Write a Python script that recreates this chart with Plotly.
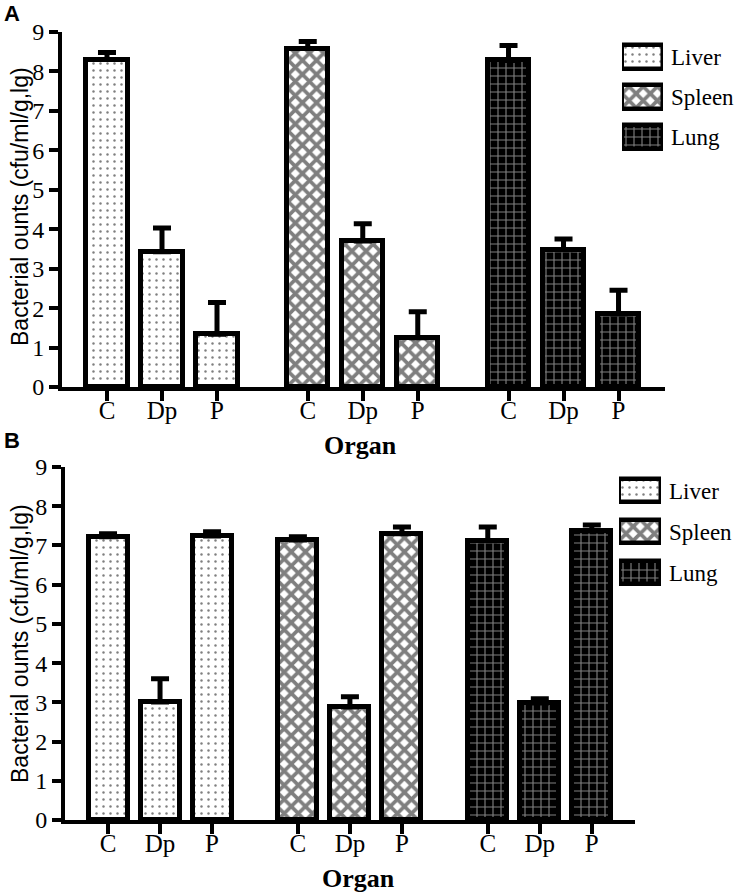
import plotly.graph_objects as go

W, H = 739, 896

# ---------------- data ----------------
organs = ["Liver", "Spleen", "Lung"]
groups = ["C", "Dp", "P"]
y_ticks = [0, 1, 2, 3, 4, 5, 6, 7, 8, 9]

# Panel A
a_liver = [8.30, 3.43, 1.34]
a_liver_err = [0.18, 0.60, 0.80]
a_spleen = [8.58, 3.70, 1.25]
a_spleen_err = [0.18, 0.44, 0.66]
a_lung = [8.28, 3.48, 1.85]
a_lung_err = [0.38, 0.27, 0.60]

# Panel B
b_liver = [7.22, 3.01, 7.24]
b_liver_err = [0.08, 0.59, 0.11]
b_spleen = [7.14, 2.88, 7.30]
b_spleen_err = [0.08, 0.26, 0.17]
b_lung = [7.12, 2.98, 7.37]
b_lung_err = [0.35, 0.11, 0.15]

y_title = "Bacterial ounts (cfu/ml/g,lg)"
x_title = "Organ"

# ---------------- styles ----------------
SERIF = "Liberation Serif"
SANS = "Liberation Sans"
patterns = {
    "Liver": dict(shape=".", fgcolor="black", bgcolor="white", size=7, solidity=0.1),
    "Spleen": dict(shape="x", fgcolor="black", bgcolor="white", size=10, solidity=0.6),
    "Lung": dict(shape="+", fgcolor="white", bgcolor="black", size=8, solidity=0.26),
}
GROUP_STEP = 3.65
BAR_W = 0.75


def px_x(p):
    return p / W


def px_y(p):
    return 1 - p / H


fig = go.Figure()

panel_data = [
    ([a_liver, a_spleen, a_lung], [a_liver_err, a_spleen_err, a_lung_err], "x", "y"),
    ([b_liver, b_spleen, b_lung], [b_liver_err, b_spleen_err, b_lung_err], "x2", "y2"),
]

tickvals = []
ticktext = []
for gi, organ in enumerate(organs):
    for i, g in enumerate(groups):
        tickvals.append(gi * GROUP_STEP + i)
        ticktext.append(g)

for vals_list, errs_list, xa, ya in panel_data:
    for gi, organ in enumerate(organs):
        xs = [gi * GROUP_STEP + i for i in range(len(groups))]
        fig.add_trace(go.Bar(
            x=xs, y=vals_list[gi], width=BAR_W, name=organ, showlegend=False,
            xaxis=xa, yaxis=ya,
            marker=dict(color=patterns[organ]["bgcolor"],
                        line=dict(color="black", width=5),
                        pattern=patterns[organ]),
            error_y=dict(type="data", array=errs_list[gi], arrayminus=[0] * 3,
                         symmetric=False, color="black", thickness=5, width=9),
        ))

# legend swatches drawn as small horizontal bars on their own axes
for organ in organs:
    for xa, ya in [("x3", "y3"), ("x4", "y4")]:
        fig.add_trace(go.Bar(
            x=[1], y=[organ], orientation="h", width=0.58, showlegend=False,
            xaxis=xa, yaxis=ya,
            marker=dict(color=patterns[organ]["bgcolor"],
                        line=dict(color="black", width=4.5),
                        pattern=patterns[organ]),
        ))

axis_common_x = dict(
    showline=True, linecolor="black", linewidth=4, ticks="outside", ticklen=10,
    tickwidth=3.5, tickcolor="black", showgrid=False, zeroline=False, automargin=False,
    tickmode="array", tickvals=tickvals, ticktext=ticktext, ticklabelstandoff=-12,
    tickfont=dict(family=SERIF, size=25, color="black"),
)
axis_common_y = dict(
    showline=True, linecolor="black", linewidth=4, ticks="outside", ticklen=9,
    tickwidth=3.5, tickcolor="black", showgrid=False, zeroline=False, automargin=False,
    range=[0, 9], tickmode="array", tickvals=y_ticks,
    tickfont=dict(family=SERIF, size=24, color="black"),
)

legend_y = dict(type="category", autorange="reversed", side="right", showline=False,
                ticks="", showgrid=False, zeroline=False, ticklabelstandoff=7, automargin=False,
                tickfont=dict(family=SERIF, size=23, color="black"))
legend_x = dict(range=[0, 1], visible=False, showgrid=False, zeroline=False, automargin=False)

fig.update_layout(
    width=W, height=H,
    margin=dict(l=0, r=0, t=0, b=0),
    paper_bgcolor="white", plot_bgcolor="white",
    barmode="overlay", bargap=0,
    xaxis=dict(domain=[px_x(62), px_x(665)], range=[-0.818, 10.145], anchor="y", **axis_common_x),
    yaxis=dict(domain=[px_y(387), px_y(32)], anchor="x", **axis_common_y),
    xaxis2=dict(domain=[px_x(65), px_x(635)], range=[-0.827, 10.13], anchor="y2", **axis_common_x),
    yaxis2=dict(domain=[px_y(820), px_y(467)], anchor="x2", **axis_common_y),
    xaxis3=dict(domain=[px_x(622), px_x(663)], anchor="y3", **legend_x),
    yaxis3=dict(domain=[px_y(157), px_y(37)], anchor="x3", **legend_y),
    xaxis4=dict(domain=[px_x(619), px_x(661)], anchor="y4", **legend_x),
    yaxis4=dict(domain=[px_y(593), px_y(470)], anchor="x4", **legend_y),
)

annotations = [
    dict(text="<b>A</b>", x=px_x(12), y=px_y(13), font=dict(family=SANS, size=22)),
    dict(text="<b>B</b>", x=px_x(12), y=px_y(440), font=dict(family=SANS, size=22)),
    dict(text=f"<b>{x_title}</b>", x=px_x(360), y=px_y(445), font=dict(family=SERIF, size=26)),
    dict(text=f"<b>{x_title}</b>", x=px_x(358), y=px_y(878), font=dict(family=SERIF, size=26)),
    dict(text=y_title, x=px_x(20), y=px_y(207), textangle=-90, font=dict(family=SANS, size=23)),
    dict(text=y_title, x=px_x(20), y=px_y(644), textangle=-90, font=dict(family=SANS, size=23)),
]
for a in annotations:
    a.update(xref="paper", yref="paper", showarrow=False, xanchor="center", yanchor="middle")
    a["font"]["color"] = "black"
fig.update_layout(annotations=annotations)

fig.write_html(
    "out.html",
    config={"displayModeBar": False},
    post_script="document.body.style.margin='0';document.body.style.overflow='hidden';",
)
